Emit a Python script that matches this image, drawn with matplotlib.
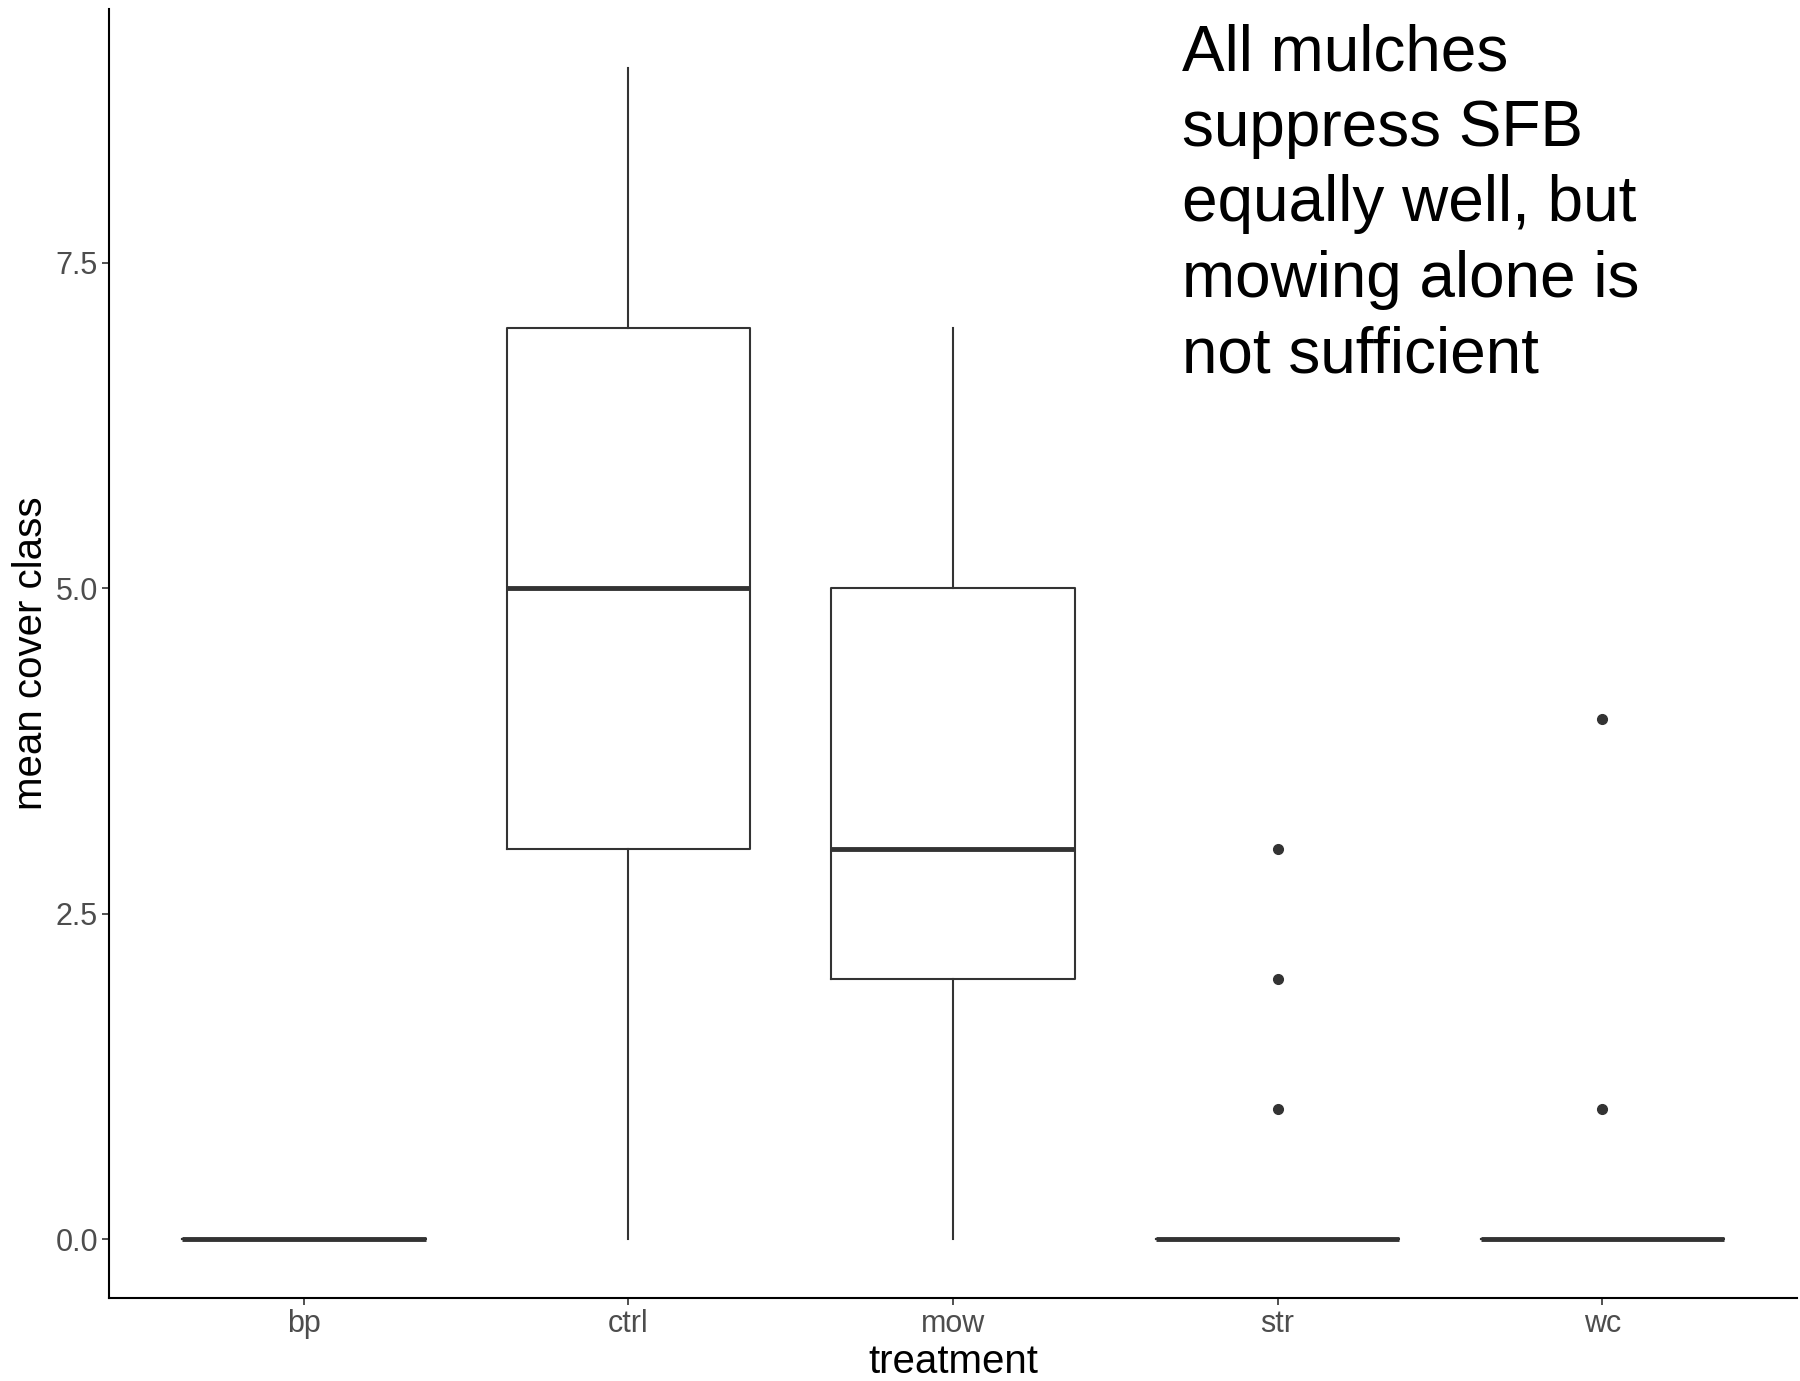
import matplotlib
matplotlib.use('Agg')
import matplotlib.pyplot as plt

plt.rcParams['font.family'] = ['Liberation Sans', 'DejaVu Sans']

# box statistics per treatment
treatments = ['bp', 'ctrl', 'mow', 'str', 'wc']
whisker_low = [0, 0, 0, 0, 0]
q1 = [0, 3, 2, 0, 0]
medians = [0, 5, 3, 0, 0]
q3 = [0, 7, 5, 0, 0]
whisker_high = [0, 9, 7, 0, 0]
outliers = [[], [], [], [1, 2, 3], [1, 4]]

note = "All mulches\nsuppress SFB\nequally well, but\nmowing alone is\nnot sufficient"

stats = []
for i, name in enumerate(treatments):
    stats.append({
        'label': name,
        'whislo': whisker_low[i],
        'q1': q1[i],
        'med': medians[i],
        'q3': q3[i],
        'whishi': whisker_high[i],
        'fliers': outliers[i],
    })

fig = plt.figure(figsize=(18, 13.81), dpi=100)
ax = fig.add_axes([109 / 1800, 1 - 1298 / 1381, (1797 - 109) / 1800, (1298 - 9) / 1381])

edge = '#333333'
ax.bxp(stats, positions=range(1, 6), widths=0.75, showcaps=False,
       boxprops=dict(color=edge, linewidth=1.5),
       whiskerprops=dict(color=edge, linewidth=1.5),
       medianprops=dict(color=edge, linewidth=3.5, solid_capstyle='butt'),
       flierprops=dict(marker='o', markerfacecolor=edge, markeredgecolor=edge,
                       markersize=7))

ax.set_xlim(0.4, 5.6)
ax.set_ylim(-0.45, 9.45)
ax.set_yticks([0, 2.5, 5, 7.5])
ax.set_yticklabels(['0.0', '2.5', '5.0', '7.5'])
ax.set_xticks(range(1, 6))
ax.set_xticklabels(treatments)

for side in ['top', 'right']:
    ax.spines[side].set_visible(False)
for side in ['left', 'bottom']:
    ax.spines[side].set_linewidth(1.5)
    ax.spines[side].set_color('black')
ax.tick_params(axis='both', colors='#333333', length=5, width=1.2,
               labelsize=22, labelcolor='#4D4D4D', pad=3)

ax.set_xlabel('treatment', fontsize=29, color='black', labelpad=3)
ax.set_ylabel('mean cover class', fontsize=29, color='black', labelpad=4)

ax.text(3.706, 9.34, note, fontsize=46, va='top', ha='left', color='black',
        linespacing=1.33)

fig.savefig('out.png', dpi=100)
